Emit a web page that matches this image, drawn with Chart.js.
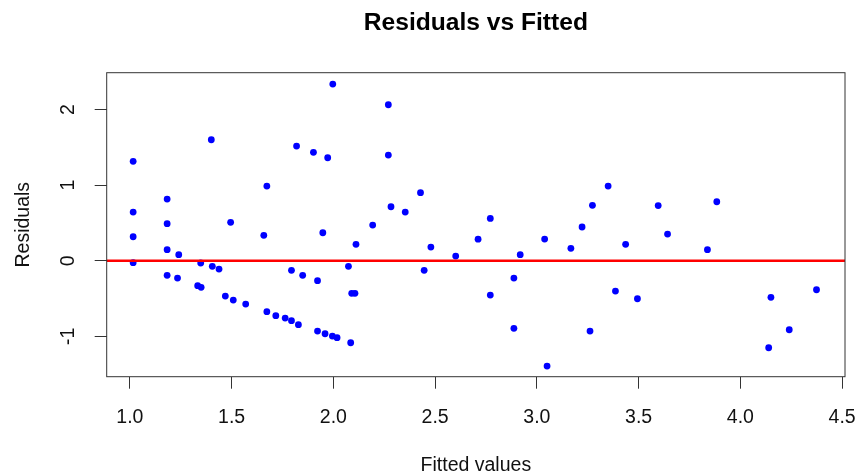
<!DOCTYPE html>
<html lang="en">
<head>
  <meta charset="UTF-8" />
  <title>Residuals vs Fitted</title>
  <script src="https://cdn.jsdelivr.net/npm/chart.js"></script>
  <style>
    body { margin: 0; background: #fff; }
  </style>
</head>
<body>
  <canvas id="residPlot" width="860" height="475"></canvas>

  <script>
    const fitted = [
      1.016, 1.016, 1.016, 1.016, 1.183, 1.183, 1.183, 1.183, 1.240, 1.234,
      1.333, 1.350, 1.348, 1.400, 1.405, 1.438, 1.469, 1.495, 1.508, 1.569,
      1.658, 1.673, 1.673, 1.717, 1.763, 1.794, 1.794, 1.819, 1.828, 1.849,
      1.902, 1.922, 1.922, 1.948, 1.959, 1.972, 1.995, 1.997, 2.018, 2.074,
      2.085, 2.090, 2.106, 2.111, 2.193, 2.270, 2.270, 2.283, 2.353, 2.428,
      2.446, 2.479, 2.601, 2.711, 2.771, 2.771, 2.887, 2.887, 2.918, 3.038,
      3.050, 3.167, 3.222, 3.261, 3.273, 3.350, 3.386, 3.436, 3.494, 3.596,
      3.642, 3.838, 3.884, 4.139, 4.150, 4.240, 4.374
    ];
    const residuals = [
      1.315, 0.644, 0.317, -0.026, 0.816, 0.490, 0.146, -0.193, 0.080, -0.229,
      -0.330, -0.352, -0.030, 1.600, -0.074, -0.110, -0.467, 0.508, -0.520, -0.573,
      0.336, 0.988, -0.674, -0.727, -0.758, -0.793, -0.127, 1.517, -0.846, -0.193,
      1.434, -0.264, -0.930, 0.370, -0.966, 1.362, -0.996, 2.337, -1.018, -0.074,
      -1.085, -0.431, -0.431, 0.217, 0.472, 2.063, 1.398, 0.714, 0.644, 0.900,
      -0.127, 0.181, 0.062, 0.285, 0.560, -0.454, -0.229, -0.894, 0.080, 0.287,
      -1.393, 0.164, 0.446, -0.930, 0.733, 0.988, -0.401, 0.217, -0.503, 0.730,
      0.353, 0.146, 0.780, -1.151, -0.484, -0.913, -0.384
    ];

    // limites dos eixos (como o R, 4% alem dos dados)
    const xMin = 0.886, xMax = 4.514;
    const yMin = -1.534, yMax = 2.487;

    const titulo = 'Residuals vs Fitted';

    const pontos = fitted.map((x, i) => ({ x: x, y: residuals[i] }));
    const linhaZero = [{ x: xMin, y: 0 }, { x: xMax, y: 0 }];

    const fonte = "'Liberation Sans', Arial, sans-serif";
    const corTexto = '#111';

    // caixa em volta da area do grafico, titulo centrado no grafico e rotulos do eixo y girados
    const caixaPlugin = {
      id: 'caixa',
      afterDraw(chart) {
        const ctx = chart.ctx;
        const a = chart.chartArea;
        ctx.save();
        ctx.strokeStyle = '#333';
        ctx.lineWidth = 1;
        ctx.strokeRect(a.left, a.top, a.right - a.left, a.bottom - a.top);

        ctx.fillStyle = '#000';
        ctx.font = 'bold 24.6px ' + fonte;
        ctx.textAlign = 'center';
        ctx.textBaseline = 'middle';
        ctx.fillText(titulo, (a.left + a.right) / 2, 23);

        const ys = chart.scales.y;
        ctx.fillStyle = corTexto;
        ctx.font = '19.5px ' + fonte;
        ys.ticks.forEach(t => {
          const py = ys.getPixelForValue(t.value);
          ctx.save();
          ctx.translate(69, py);
          ctx.rotate(-Math.PI / 2);
          ctx.fillText(String(t.value), 0, 0);
          ctx.restore();
        });
        ctx.restore();
      }
    };

    new Chart(document.getElementById('residPlot'), {
      type: 'scatter',
      data: {
        datasets: [
          {
            type: 'line',
            data: linhaZero,
            borderColor: '#ff0000',
            borderWidth: 2.5,
            pointRadius: 0,
            fill: false
          },
          {
            data: pontos,
            backgroundColor: '#0000ff',
            borderWidth: 0,
            pointRadius: 3.4
          }
        ]
      },
      options: {
        responsive: false,
        animation: false,
        devicePixelRatio: 1,
        layout: { padding: { left: 0, right: 15, top: 72.7, bottom: 0 } },
        plugins: {
          legend: { display: false },
          tooltip: { enabled: false },
          title: { display: false }
        },
        scales: {
          x: {
            type: 'linear',
            min: xMin,
            max: xMax,
            afterFit: s => { s.height = 98.3; s.paddingLeft = 0; s.paddingRight = 0; },
            border: { display: false },
            grid: { drawOnChartArea: false, drawTicks: true, tickLength: 12, tickColor: '#333', tickWidth: 1 },
            ticks: {
              stepSize: 0.5,
              includeBounds: false,
              autoSkip: false,
              maxRotation: 0,
              padding: 17,
              color: corTexto,
              font: { family: fonte, size: 19.5 },
              callback: v => v.toFixed(1)
            },
            title: {
              display: true,
              text: 'Fitted values',
              color: corTexto,
              font: { family: fonte, size: 19.5, lineHeight: 1 },
              padding: 0
            }
          },
          y: {
            type: 'linear',
            min: yMin,
            max: yMax,
            afterFit: s => { s.width = 106.7; s.paddingTop = 0; s.paddingBottom = 0; },
            border: { display: false },
            grid: { drawOnChartArea: false, drawTicks: true, tickLength: 12, tickColor: '#333', tickWidth: 1 },
            ticks: { stepSize: 1, includeBounds: false, display: false },
            title: {
              display: true,
              text: 'Residuals',
              color: corTexto,
              font: { family: fonte, size: 19.5, lineHeight: 1.2 },
              padding: { top: 12, bottom: 0 }
            }
          }
        }
      },
      plugins: [caixaPlugin]
    });
  </script>
</body>
</html>
